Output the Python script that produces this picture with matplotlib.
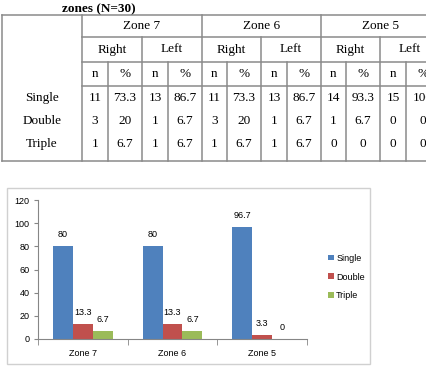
import matplotlib.pyplot as plt
from matplotlib.patches import Rectangle
import numpy as np

# table data
zones = ['Zone 7', 'Zone 6', 'Zone 5']
sides = ['Right', 'Left']
rowNames = ['Single', 'Double', 'Triple']
tableVals = [
    ['11', '73.3', '13', '86.7', '11', '73.3', '13', '86.7', '14', '93.3', '15', '100'],
    ['3', '20', '1', '6.7', '3', '20', '1', '6.7', '1', '6.7', '0', '0'],
    ['1', '6.7', '1', '6.7', '1', '6.7', '1', '6.7', '0', '0', '0', '0'],
]

# chart data
categories = ['Zone 7', 'Zone 6', 'Zone 5']
single = [80, 80, 96.7]
double = [13.3, 13.3, 3.3]
triple = [6.7, 6.7, 0]
seriesNames = ['Single', 'Double', 'Triple']
colors = ['#4F81BD', '#C0504D', '#9BBB59']

plt.rcParams['font.family'] = 'Liberation Sans'

fig = plt.figure(figsize=(4.27, 3.70), dpi=100)

# background axes in pixel coords for the table
bg = fig.add_axes([0, 0, 1, 1])
bg.set_xlim(0, 427)
bg.set_ylim(370, 0)
bg.axis('off')

serif = 'Liberation Serif'
lc = '#8a8a8a'
lw = 1.1

bg.text(62, 9, 'zones (N=30)', fontfamily=serif, fontweight='bold', fontsize=9.5,
        ha='left', va='center')

colEdges = [2, 82, 108, 142, 168, 202, 227, 261, 287, 321, 346, 380, 406, 440]
yTop, y1, y2, y3, yBot = 15, 37, 62, 86, 161

# horizontal lines
bg.plot([2, 440], [yTop, yTop], color=lc, lw=lw)
bg.plot([2, 440], [yBot, yBot], color=lc, lw=lw)
for y in (y1, y2, y3):
    bg.plot([82, 440], [y, y], color=lc, lw=lw)

# vertical lines
for i, x in enumerate(colEdges):
    if i <= 1 or (i - 1) % 4 == 0:
        y0 = yTop
    elif (i - 1) % 2 == 0:
        y0 = y1
    else:
        y0 = y2
    bg.plot([x, x], [y0, yBot], color=lc, lw=lw)

# header text
for j, z in enumerate(zones):
    xc = (colEdges[1 + 4 * j] + colEdges[5 + 4 * j]) / 2
    bg.text(xc, 26, z, fontfamily=serif, fontsize=9.5, ha='center', va='center')
    for k, s in enumerate(sides):
        xs = (colEdges[1 + 4 * j + 2 * k] + colEdges[3 + 4 * j + 2 * k]) / 2
        bg.text(xs, 49.5, s, fontfamily=serif, fontsize=9.5, ha='center', va='center')
for c in range(12):
    xc = (colEdges[1 + c] + colEdges[2 + c]) / 2
    bg.text(xc, 74, 'n' if c % 2 == 0 else '%', fontfamily=serif, fontsize=9.5,
            ha='center', va='center')

rowY = [98, 121, 144]
for r, name in enumerate(rowNames):
    bg.text(42, rowY[r], name, fontfamily=serif, fontsize=9.5, ha='center', va='center')
    for c, v in enumerate(tableVals[r]):
        xc = (colEdges[1 + c] + colEdges[2 + c]) / 2
        bg.text(xc, rowY[r], v, fontfamily=serif, fontsize=9.5, ha='center', va='center')

# chart frame
bg.add_patch(Rectangle((7, 188), 363, 176, fill=False, edgecolor='#d0d0d0', lw=1))

# bar chart
ax = fig.add_axes([38 / 427, (370 - 339) / 370, 269 / 427, 139 / 370])
x = np.arange(len(categories))
w = 0.223
for i, (vals, name) in enumerate(zip([single, double, triple], seriesNames)):
    bars = ax.bar(x + (i - 1) * w, vals, w, color=colors[i], label=name)
    for b, v in zip(bars, vals):
        ax.annotate(f'{v:g}', (b.get_x() + b.get_width() / 2, v), xytext=(0, 5),
                    textcoords='offset points', ha='center', va='bottom', fontsize=6.5)

ax.set_xlim(-0.5, 2.5)
ax.set_ylim(0, 120)
ax.set_yticks(range(0, 121, 20))
ax.set_xticks(x)
ax.set_xticklabels(categories)
ax.set_xticks([-0.5, 0.5, 1.5, 2.5], minor=True)
ax.tick_params(axis='x', which='major', length=0, labelsize=6.5, pad=7)
ax.tick_params(axis='x', which='minor', length=4, color='#868686', direction='out')
ax.tick_params(axis='y', length=3, color='#868686', labelsize=6.5, pad=3)
for s in ('top', 'right'):
    ax.spines[s].set_visible(False)
for s in ('left', 'bottom'):
    ax.spines[s].set_color('#868686')
    ax.spines[s].set_linewidth(0.8)

fig.legend(loc='center left', bbox_to_anchor=(320 / 427, (370 - 277) / 370), frameon=False,
           fontsize=6.5, handlelength=0.6, handleheight=0.6, handletextpad=0.3,
           labelspacing=1.1)

fig.savefig('out.png', dpi=100)
